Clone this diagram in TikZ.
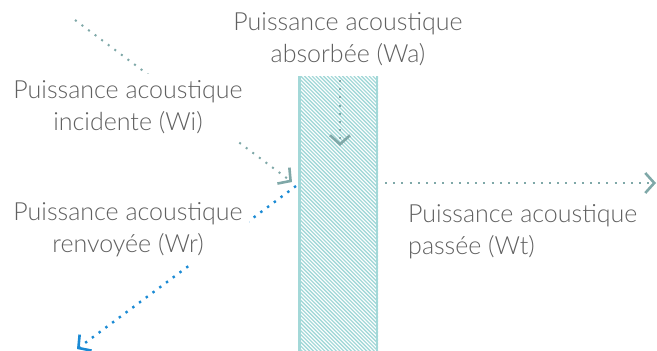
\documentclass[tikz,border=0pt]{standalone}
\usepackage{fontspec}
\setmainfont{Lato}[UprightFont=* Light]
\usetikzlibrary{arrows.meta}
\definecolor{wallteal}{HTML}{A3D8D8}
\definecolor{flowgray}{HTML}{7FA8A8}
\definecolor{flowblue}{HTML}{1A8AD4}
\definecolor{labelgray}{HTML}{606060}
\tikzset{
  label text/.style={font=\fontsize{25}{32}\selectfont, text=labelgray, align=center, inner sep=0pt},
  cover/.style={fill=white, inner sep=6.5pt},
  chevron/.style={-{Straight Barb[length=9pt,width=20pt,line width=2.6pt 0]}},
  dots/.style={line width=2pt, dash pattern=on 2pt off 6.2pt},
  flow/.style={dots, draw=flowgray, chevron},
  reflected/.style={line width=2.4pt, dash pattern=on 2.4pt off 6pt, draw=flowblue, chevron},
  hatch/.style={draw=wallteal, line width=1.3pt},
  wallside/.style={draw=wallteal, line width=2.6pt}
}
\begin{document}
\begin{tikzpicture}[x=1pt, y=-1pt]
  \useasboundingbox (0,0) rectangle (657,351);

  % hatched wall
  \coordinate (wallNW) at (298,76);
  \coordinate (wallSE) at (378,351);
  \begin{scope}
    \clip (wallNW) rectangle (wallSE);
    \foreach \i in {0,...,105}
      \draw[hatch] ({298-290+\i*3.8},76) -- ++(300,300);
  \end{scope}
  \draw[wallside] (299.5,76) -- (299.5,351);
  \draw[wallside] (376.8,76) -- (376.8,351);

  % end points of the flows
  \coordinate (incFrom) at (75,20);
  \coordinate (incTo) at (292,182);
  \coordinate (refFrom) at (296,186);
  \coordinate (refTo) at (77,349);
  \coordinate (absFrom) at (340,80);
  \coordinate (absTo) at (340,146);
  \coordinate (trFrom) at (385,183);
  \coordinate (trTo) at (656,183);

  \draw[flow] (incFrom) -- (incTo);
  \draw[reflected] (refFrom) -- (refTo);
  \draw[flow] (absFrom) -- (absTo);
  \draw[flow] (trFrom) -- (trTo);

  % labels
  \node[label text, cover] (wa) at (348,39) {Puissance acoustique\\absorbée (Wa)};
  \node[label text, cover] (wi) at (128,107) {Puissance acoustique\\incidente (Wi)};
  \node[label text, cover] (wr) at (128,230) {Puissance acoustique\\renvoyée (Wr)};
  \node[label text, anchor=west, align=left] (wt) at (408,232) {Puissance acoustique\\passée (Wt)};
\end{tikzpicture}
\end{document}
